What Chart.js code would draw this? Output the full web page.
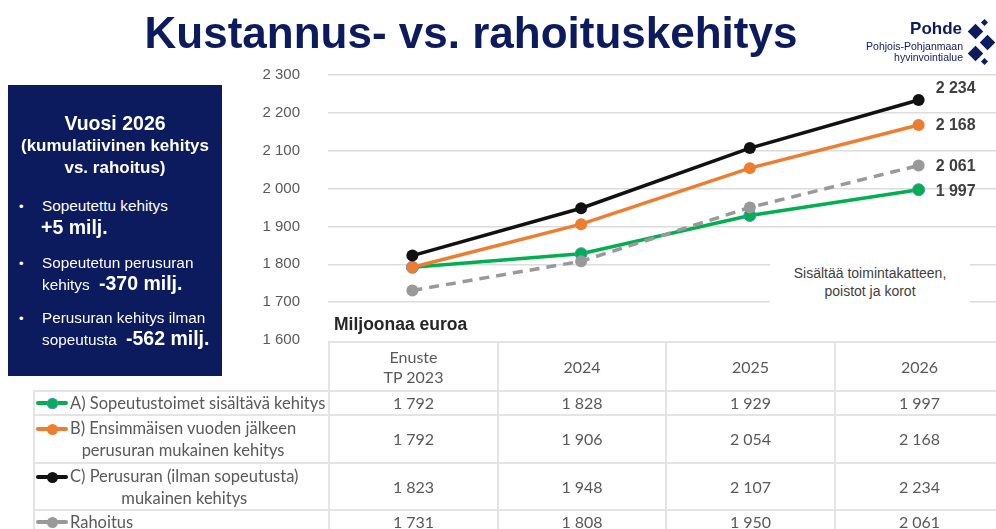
<!DOCTYPE html>
<html>
<head>
<meta charset="utf-8">
<script src="https://cdn.jsdelivr.net/npm/chart.js@4.4.1/dist/chart.umd.min.js"></script>
<style>
html,body{margin:0;padding:0;width:996px;height:529px;overflow:hidden;background:#fff;}
#wrap{position:relative;width:996px;height:529px;overflow:hidden;}
#cv{position:absolute;left:0;top:0;}
.t{position:absolute;white-space:nowrap;line-height:1;font-family:"Liberation Sans",Arial,sans-serif;}
#box{position:absolute;left:8px;top:85px;width:214px;height:291px;background:#0c1a5e;}
#note{position:absolute;left:770px;top:264px;width:200px;height:41px;background:#fff;color:#404040;font:14px "Liberation Sans",Arial,sans-serif;text-align:center;line-height:18px;}
#tbl{position:absolute;left:33px;top:341px;width:990px;border-collapse:collapse;table-layout:fixed;font-family:Lato,"Open Sans",sans-serif;font-size:16px;color:#595959;}
#tbl td{border:2px solid #e4e4e4;text-align:center;padding:0;vertical-align:middle;line-height:22px;}
#tbl td.lab{text-align:left;padding-left:35px;position:relative;font-size:16.5px;}
#tbl td.lab .txt{display:inline-block;text-align:center;}
.key{position:absolute;left:1px;top:50%;width:32px;height:4px;}
.key .ln{position:absolute;left:0;top:0;width:32px;height:4px;border-radius:2px;}
.key .dt{position:absolute;left:11px;top:-3.5px;width:11px;height:11px;border-radius:50%;}
.dia{position:absolute;background:#0c1a5e;transform:rotate(45deg);}
</style>
</head>
<body>
<div id="wrap">
<canvas id="cv" width="1010" height="529" style="width:1010px;height:529px"></canvas>
<div id="note">Sisältää toimintakatteen,<br>poistot ja korot</div>
<div id="box"></div>
<table id="tbl"></table>
</div>
<script>
// ---- data ----
const categories = ['Enuste\nTP 2023', '2024', '2025', '2026'];
const seriesNames = ['A) Sopeutustoimet sisältävä kehitys', 'B) Ensimmäisen vuoden jälkeen\nperusuran mukainen kehitys', 'C) Perusuran (ilman sopeutusta)\nmukainen kehitys', 'Rahoitus'];
const seriesA = [1792, 1828, 1929, 1997];
const seriesB = [1792, 1906, 2054, 2168];
const seriesC = [1823, 1948, 2107, 2234];
const rahoitus = [1731, 1808, 1950, 2061];
const yTicks = [1600, 1700, 1800, 1900, 2000, 2100, 2200, 2300];

// ---- styles ----
const colors = ['#00b050', '#ed7d31', '#111111', '#999999'];
const labelDy = [2, 1, -11, 1];
const allSeries = [seriesA, seriesB, seriesC, rahoitus];

function fmt(v){ return String(v).replace(/\B(?=(\d{3})+(?!\d))/g, ' '); }

const wrap = document.getElementById('wrap');
function txt(s, x, base, size, weight, color, align, parent){
  const d = document.createElement('div');
  d.className = 't';
  d.textContent = s;
  d.style.fontSize = size + 'px';
  d.style.fontWeight = weight;
  d.style.color = color;
  d.style.top = (base - 0.846 * size) + 'px';
  if (align === 'center') { d.style.left = (x - 500) + 'px'; d.style.width = '1000px'; d.style.textAlign = 'center'; }
  else if (align === 'right') { d.style.left = (x - 600) + 'px'; d.style.width = '600px'; d.style.textAlign = 'right'; }
  else d.style.left = x + 'px';
  (parent || wrap).appendChild(d);
  return d;
}

// title
txt('Kustannus- vs. rahoituskehitys', 471, 48, 44, 'bold', '#0c1a5e', 'center');
// logo
txt('Pohde', 962, 34, 17, 'bold', '#0c1a5e', 'right');
txt('Pohjois-Pohjanmaan', 963, 50, 10.5, 'normal', '#0c1a5e', 'right');
txt('hyvinvointialue', 963, 61, 10.5, 'normal', '#0c1a5e', 'right');
[[975,31,11],[984,22,5],[987,42,11],[975,53,11],[984,61,5]].forEach(([x,y,s])=>{
  const d=document.createElement('div'); d.className='dia';
  d.style.left=(x-s/2)+'px'; d.style.top=(y-s/2)+'px'; d.style.width=s+'px'; d.style.height=s+'px';
  wrap.appendChild(d);
});
// left box
txt('Vuosi 2026', 115, 130, 19.5, 'bold', '#fff', 'center');
txt('(kumulatiivinen kehitys', 115, 151, 17, 'bold', '#fff', 'center');
txt('vs. rahoitus)', 115, 173, 17, 'bold', '#fff', 'center');
[211, 268, 323].forEach(b => txt('•', 19, b, 13, 'normal', '#fff'));
txt('Sopeutettu kehitys', 42, 211, 15.3, 'normal', '#fff');
txt('+5 milj.', 41, 234, 19.5, 'bold', '#fff');
txt('Sopeutetun perusuran', 42, 268, 15.3, 'normal', '#fff');
txt('kehitys', 42, 290, 15.3, 'normal', '#fff');
txt('-370 milj.', 99, 290, 19.5, 'bold', '#fff');
txt('Perusuran kehitys ilman', 42, 323, 15.3, 'normal', '#fff');
txt('sopeutusta', 42, 345, 15.3, 'normal', '#fff');
txt('-562 milj.', 126, 345, 19.5, 'bold', '#fff');
// unit label
txt('Miljoonaa euroa', 334, 331, 17.5, 'bold', '#262626');

// table
const tbl = document.getElementById('tbl');
const colW = [295, 169, 168, 169, 189];
const rowH = [49, 24, 48, 47, 24];
let html = '<colgroup>' + colW.map(w => '<col style="width:' + w + 'px">').join('') + '</colgroup>';
html += '<tr style="height:' + rowH[0] + 'px"><td style="border:none"></td>' +
  categories.map((c, j) => '<td style="line-height:20px' + (j === 3 ? ';padding-right:20px' : '') + '">' + c.replace('\n', '<br>') + '</td>').join('') + '</tr>';
allSeries.forEach((s, i) => {
  const key = '<div class="key" style="margin-top:-2px"><div class="ln" style="background:' + colors[i] + '"></div><div class="dt" style="background:' + colors[i] + (i===0?';box-shadow:0 0 0 1px #4a8fd0 inset':'') + '"></div></div>';
  html += '<tr style="height:' + rowH[i+1] + 'px"><td class="lab">' + key + '<span class="txt">' + seriesNames[i].replace('\n', '<br>') + '</span></td>' +
    s.map((v, j) => '<td' + (j === 3 ? ' style="padding-right:20px"' : '') + '>' + fmt(v) + '</td>').join('') + '</tr>';
});
tbl.innerHTML = html;
tbl.querySelectorAll('tr').forEach((tr, r) => {
  const k = tr.querySelector('.key');
  if (k && (r === 2 || r === 3)) { k.style.top = '13px'; }
});

// chart
const endLabels = {
  id: 'endLabels',
  afterDatasetsDraw(chart) {
    const ctx = chart.ctx;
    ctx.save();
    ctx.font = 'bold 16px "Liberation Sans", Arial, sans-serif';
    ctx.fillStyle = '#404040';
    ctx.textBaseline = 'middle';
    ctx.textAlign = 'left';
    chart.data.datasets.forEach((ds, i) => {
      const meta = chart.getDatasetMeta(i);
      const p = meta.data[meta.data.length - 1];
      ctx.fillText(fmt(ds.data[ds.data.length - 1]), p.x + 17, p.y + labelDy[i]);
    });
    ctx.restore();
  }
};

new Chart(document.getElementById('cv'), {
  type: 'line',
  data: {
    labels: categories,
    datasets: allSeries.map((s, i) => ({
      label: seriesNames[i],
      data: s,
      borderColor: colors[i],
      backgroundColor: colors[i],
      pointBackgroundColor: colors[i],
      pointBorderColor: i === 0 ? '#4a8fd0' : colors[i],
      pointBorderWidth: i === 0 ? 1 : 0,
      borderWidth: 3.5,
      pointRadius: 6,
      borderDash: i === 3 ? [10, 7] : [],
      tension: 0,
      order: 4 - i
    }))
  },
  options: {
    responsive: false,
    animation: false,
    events: [],
    layout: { padding: { top: 75, bottom: 189, left: 0, right: 6 } },
    plugins: { legend: { display: false }, tooltip: { enabled: false } },
    scales: {
      x: { display: false, offset: true },
      y: {
        min: 1600, max: 2300,
        afterBuildTicks(scale) { scale.ticks = yTicks.map(v => ({ value: v })); },
        afterFit(scale) { scale.width = 328; },
        border: { display: false },
        grid: { color: c => c.tick.value === 1600 ? 'rgba(0,0,0,0)' : '#dcdcdc', lineWidth: 1.5, drawTicks: false },
        ticks: { padding: 28, color: '#595959', font: { family: '"Liberation Sans", Arial, sans-serif', size: 15 }, callback: v => fmt(v) }
      }
    }
  },
  plugins: [endLabels]
});
</script>
</body>
</html>
